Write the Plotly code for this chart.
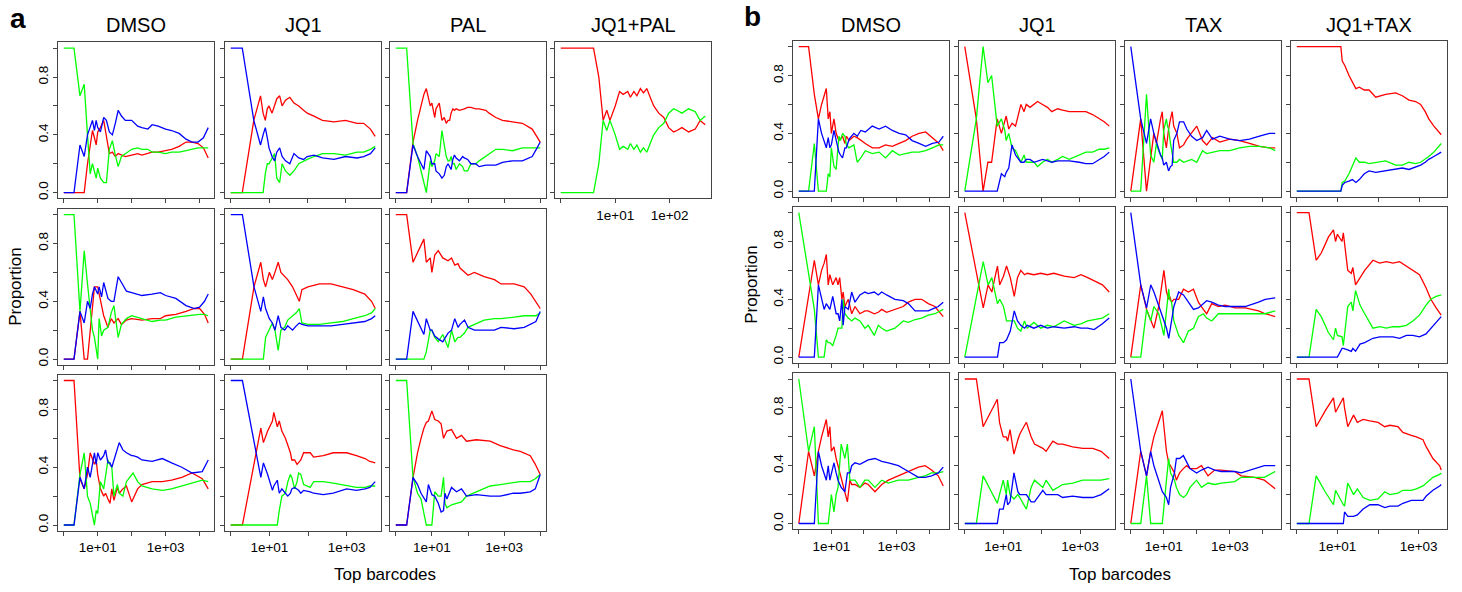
import math
import plotly.graph_objects as go

# ---------------- data (rank of barcode, proportion per colour) ----------------
# Panel a
a11_rank = [1,2,3,4,5,6,7,8,9,10,12,15,18,22,27,33,40,50,65,100,150,200,300,400,600,1000,1500,2500,4000,6000,9000,13000,18000]
a11_red = [0,0,0,0,0.2,0.33,0.43,0.38,0.33,0.42,0.45,0.5,0.4,0.27,0.28,0.25,0.27,0.26,0.25,0.26,0.27,0.26,0.27,0.28,0.28,0.29,0.3,0.32,0.35,0.35,0.34,0.31,0.24]
a11_green = [1,1,0.67,0.75,0.4,0.13,0.2,0.15,0.1,0.17,0.1,0.07,0.07,0.3,0.36,0.26,0.18,0.25,0.27,0.3,0.31,0.3,0.3,0.28,0.28,0.27,0.28,0.28,0.29,0.3,0.31,0.31,0.31]
a11_blue = [0,0,0.33,0.25,0.4,0.45,0.5,0.43,0.5,0.45,0.42,0.52,0.5,0.42,0.4,0.48,0.57,0.53,0.5,0.5,0.46,0.45,0.44,0.47,0.46,0.44,0.43,0.41,0.37,0.35,0.35,0.38,0.45]

a12_rank = [1,2,4,6,7,8,9,10,12,14,16,19,22,27,35,45,60,80,100,150,250,500,1000,2000,3000,4500,6000]
a12_red = [0,0,0.5,0.67,0.55,0.5,0.58,0.6,0.55,0.6,0.65,0.67,0.6,0.64,0.66,0.62,0.6,0.57,0.55,0.53,0.5,0.49,0.5,0.48,0.48,0.44,0.39]
a12_green = [0,0,0,0,0,0.13,0.2,0.2,0.24,0.27,0.1,0.07,0.2,0.15,0.12,0.15,0.2,0.22,0.23,0.25,0.27,0.27,0.26,0.28,0.28,0.3,0.32]
a12_blue = [1,1,0.5,0.33,0.4,0.45,0.38,0.31,0.25,0.22,0.28,0.31,0.25,0.22,0.2,0.27,0.24,0.23,0.25,0.26,0.24,0.23,0.25,0.24,0.25,0.27,0.31]

a13_rank = [1,2,3,4,6,7,9,10,12,13,16,19,22,25,28,31,34,38,42,47,58,71,79,98,120,164,204,311,385,590,900,1700,3200,6000,8200,10000]
a13_red = [0,0,0.35,0.5,0.68,0.72,0.6,0.62,0.52,0.58,0.62,0.5,0.52,0.48,0.5,0.5,0.55,0.58,0.57,0.58,0.57,0.58,0.58,0.59,0.59,0.58,0.58,0.57,0.55,0.52,0.5,0.49,0.48,0.44,0.38,0.35]
a13_green = [1,1,0.34,0.25,0.07,0,0.22,0.18,0.22,0.27,0.25,0.43,0.33,0.25,0.22,0.22,0.25,0.2,0.2,0.16,0.2,0.18,0.15,0.15,0.2,0.2,0.22,0.25,0.27,0.3,0.3,0.29,0.31,0.31,0.31,0.31]
a13_blue = [0,0,0.33,0.25,0.16,0.29,0.25,0.2,0.2,0.15,0.13,0.1,0.12,0.18,0.2,0.18,0.16,0.23,0.26,0.24,0.22,0.25,0.24,0.23,0.2,0.2,0.18,0.19,0.19,0.19,0.21,0.22,0.22,0.25,0.31,0.35]

a14_rank = [1,2,3,4,5,6,7,8,10,12,14,17,19,22,25,29,33,38,45,51,63,78,96,118,136,168,223,295,363,450]
a14_red = [1,1,1,1,0.8,0.5,0.57,0.5,0.6,0.7,0.68,0.7,0.66,0.7,0.67,0.72,0.69,0.72,0.65,0.6,0.55,0.52,0.45,0.42,0.43,0.45,0.42,0.44,0.5,0.47]
a14_green = [0,0,0,0,0.2,0.5,0.43,0.5,0.4,0.3,0.32,0.3,0.34,0.3,0.33,0.28,0.31,0.28,0.35,0.4,0.45,0.48,0.55,0.58,0.57,0.55,0.58,0.56,0.5,0.53]

a21_rank = [1,2,3,4,5,6,7,8,10,11,13,15,20,25,30,40,50,70,100,200,400,700,1000,2000,4000,7000,10000,14000,18000]
a21_red = [0,0,0.33,0,0,0.2,0.4,0.5,0.5,0.45,0.38,0.3,0.22,0.28,0.25,0.28,0.24,0.27,0.28,0.27,0.28,0.28,0.3,0.31,0.33,0.35,0.35,0.31,0.25]
a21_green = [1,1,0.33,0.75,0.52,0.35,0.2,0.15,0,0.28,0.16,0.2,0.22,0.32,0.37,0.15,0.24,0.28,0.3,0.28,0.26,0.27,0.27,0.29,0.3,0.31,0.31,0.31,0.3]
a21_blue = [0,0,0.33,0.25,0.4,0.35,0.45,0.5,0.45,0.5,0.43,0.53,0.42,0.4,0.4,0.57,0.53,0.47,0.46,0.44,0.45,0.46,0.44,0.42,0.37,0.35,0.36,0.4,0.45]

a22_rank = [1,2,4,5,6,7,8,10,12,14,17,20,25,30,40,50,60,70,100,200,400,800,1500,3000,4500,5600]
a22_red = [0,0,0.5,0.6,0.67,0.55,0.5,0.6,0.55,0.6,0.67,0.6,0.57,0.55,0.5,0.45,0.4,0.48,0.5,0.52,0.52,0.5,0.48,0.45,0.4,0.35]
a22_green = [0,0,0,0,0,0,0.15,0.2,0.25,0.2,0.06,0.2,0.22,0.27,0.3,0.32,0.35,0.25,0.24,0.24,0.25,0.26,0.28,0.3,0.32,0.35]
a22_blue = [1,1,0.5,0.4,0.33,0.43,0.35,0.28,0.25,0.2,0.3,0.22,0.2,0.23,0.2,0.23,0.25,0.24,0.23,0.23,0.23,0.24,0.25,0.26,0.28,0.3]

a23_rank = [1,2,3,6,7,9,10,12,15,20,28,35,43,53,60,80,100,150,280,540,820,1900,3600,5500,7600,10000]
a23_red = [1,1,0.67,0.83,0.67,0.7,0.6,0.72,0.75,0.7,0.68,0.7,0.65,0.66,0.63,0.6,0.58,0.6,0.57,0.55,0.52,0.52,0.5,0.45,0.4,0.35]
a23_green = [0,0,0,0,0.05,0.2,0.2,0.15,0.12,0.17,0.08,0.2,0.12,0.15,0.15,0.18,0.22,0.24,0.27,0.28,0.28,0.29,0.3,0.3,0.3,0.32]
a23_blue = [0,0,0.33,0.17,0.28,0.2,0.2,0.16,0.14,0.12,0.18,0.2,0.28,0.22,0.24,0.27,0.22,0.2,0.2,0.2,0.22,0.21,0.22,0.24,0.26,0.33]

a31_rank = [1,2,3,4,5,6,8,9,10,12,15,17,20,23,26,30,38,43,55,70,100,110,150,200,400,800,1500,3000,6000,12000,18000]
a31_red = [1,1,0.32,0.25,0.35,0.5,0.42,0.45,0.35,0.25,0.2,0.22,0.18,0.15,0.25,0.17,0.26,0.22,0.25,0.27,0.16,0.18,0.25,0.28,0.3,0.3,0.31,0.33,0.36,0.32,0.25]
a31_green = [0,0,0.35,0.5,0.2,0.15,0,0.1,0.08,0.3,0.25,0.35,0.45,0.42,0.4,0.2,0.28,0.22,0.2,0.3,0.35,0.36,0.3,0.27,0.25,0.24,0.25,0.27,0.29,0.31,0.3]
a31_blue = [0,0,0.33,0.25,0.4,0.33,0.5,0.42,0.5,0.45,0.48,0.52,0.43,0.43,0.4,0.45,0.52,0.57,0.52,0.5,0.48,0.48,0.47,0.45,0.44,0.46,0.43,0.4,0.36,0.37,0.45]

a32_rank = [1,2,6,7,9,12,13,16,18,21,26,30,35,38,45,52,57,65,77,114,140,250,450,1000,1800,3000,4000,5500]
a32_red = [0,0,0.67,0.57,0.65,0.72,0.78,0.68,0.72,0.65,0.6,0.55,0.5,0.45,0.45,0.42,0.43,0.45,0.5,0.5,0.47,0.48,0.5,0.5,0.48,0.46,0.44,0.43]
a32_green = [0,0,0,0,0,0,0,0,0.1,0.2,0.22,0.3,0.35,0.33,0.25,0.3,0.36,0.35,0.28,0.26,0.3,0.3,0.29,0.27,0.26,0.26,0.27,0.27]
a32_blue = [1,1,0.33,0.43,0.35,0.24,0.27,0.31,0.22,0.25,0.22,0.2,0.22,0.25,0.26,0.25,0.24,0.22,0.24,0.23,0.22,0.21,0.22,0.25,0.24,0.25,0.26,0.3]

a33_rank = [1,2,3,4,5,6,7,8,10,12,15,18,21,23,26,35,48,66,91,170,410,780,1800,2800,5300,7300,10000]
a33_red = [0,0,0.33,0.5,0.6,0.67,0.71,0.72,0.79,0.73,0.72,0.7,0.6,0.62,0.65,0.66,0.6,0.62,0.58,0.59,0.58,0.55,0.52,0.51,0.48,0.42,0.35]
a33_green = [1,1,0.33,0.22,0.18,0.07,0,0,0,0.23,0.2,0.2,0.33,0.15,0.12,0.14,0.15,0.16,0.2,0.23,0.27,0.28,0.29,0.3,0.3,0.32,0.35]
a33_blue = [0,0,0.33,0.28,0.22,0.19,0.16,0.28,0.21,0.2,0.15,0.09,0.1,0.22,0.18,0.26,0.23,0.25,0.2,0.21,0.2,0.2,0.22,0.22,0.23,0.25,0.35]

# Panel b
b11_rank = [1,2,3,4,5,7,8,9,10,12,14,17,19,22,26,29,35,49,62,80,110,180,290,460,740,1200,1900,3000,4900,7800,12600,20000,27000]
b11_red = [1,1,0.67,0.5,0.6,0.71,0.5,0.55,0.4,0.5,0.4,0.35,0.36,0.38,0.33,0.38,0.35,0.38,0.37,0.35,0.33,0.3,0.3,0.32,0.31,0.33,0.35,0.38,0.4,0.41,0.37,0.33,0.28]
b11_green = [0,0,0.33,0,0,0,0.12,0.1,0.3,0.17,0.15,0.38,0.35,0.4,0.38,0.32,0.3,0.32,0.2,0.23,0.28,0.26,0.27,0.23,0.28,0.25,0.26,0.27,0.27,0.28,0.3,0.32,0.32]
b11_blue = [0,0,0,0.5,0.4,0.3,0.37,0.3,0.32,0.42,0.35,0.27,0.25,0.23,0.3,0.3,0.36,0.4,0.38,0.42,0.41,0.45,0.43,0.45,0.42,0.4,0.39,0.35,0.33,0.31,0.33,0.34,0.38]

b12_rank = [1,2,3,4,5,6,7,9,11,12,14,17,21,29,35,40,50,64,79,106,143,185,262,354,527,958,1430,2140,3190,4300,5800]
b12_red = [1,0.5,0,0.2,0.2,0.35,0.5,0.4,0.48,0.52,0.43,0.47,0.45,0.6,0.55,0.6,0.58,0.6,0.62,0.6,0.58,0.55,0.57,0.56,0.55,0.55,0.55,0.53,0.5,0.48,0.45]
b12_green = [0,0.5,1,0.75,0.8,0.6,0.45,0.5,0.42,0.35,0.4,0.3,0.28,0.2,0.25,0.2,0.2,0.2,0.17,0.2,0.22,0.2,0.22,0.24,0.22,0.25,0.27,0.27,0.29,0.29,0.3]
b12_blue = [0,0,0,0,0,0,0,0.12,0.1,0.13,0.16,0.32,0.25,0.2,0.2,0.22,0.22,0.2,0.21,0.22,0.21,0.2,0.21,0.21,0.21,0.2,0.19,0.19,0.22,0.24,0.27]

b13_rank = [1,2,3,4,5,6,7,8,9,10,12,13,14,16,18,20,25,30,40,50,70,100,150,200,300,500,1000,2000,4000,8000,16000,24000]
b13_red = [0,0.5,0,0.25,0.4,0.33,0.43,0.5,0.55,0.4,0.3,0.38,0.43,0.5,0.55,0.45,0.4,0.3,0.32,0.36,0.4,0.45,0.35,0.32,0.37,0.34,0.36,0.35,0.33,0.31,0.3,0.3]
b13_green = [0,0,0.67,0.25,0.2,0.33,0.28,0.25,0.22,0.42,0.5,0.45,0.43,0.33,0.27,0.2,0.2,0.22,0.2,0.21,0.22,0.2,0.28,0.26,0.27,0.28,0.28,0.3,0.31,0.31,0.3,0.28]
b13_blue = [1,0.5,0.33,0.5,0.4,0.34,0.29,0.25,0.23,0.18,0.2,0.17,0.14,0.17,0.18,0.35,0.4,0.48,0.48,0.43,0.38,0.35,0.37,0.42,0.36,0.38,0.36,0.35,0.36,0.38,0.4,0.4]

b14_rank = [1,12,13,15,19,23,28,34,45,59,86,150,264,385,560,815,1080,1400,1710,2280,3030,3450]
b14_red = [1,1,0.9,0.87,0.8,0.75,0.71,0.72,0.7,0.7,0.65,0.67,0.68,0.66,0.63,0.62,0.6,0.55,0.5,0.45,0.41,0.39]
b14_green = [0,0,0.06,0.07,0.12,0.17,0.23,0.2,0.2,0.19,0.2,0.21,0.18,0.18,0.2,0.19,0.2,0.22,0.24,0.27,0.31,0.33]
b14_blue = [0,0,0.04,0.06,0.07,0.08,0.06,0.08,0.12,0.14,0.13,0.14,0.15,0.16,0.15,0.17,0.18,0.2,0.22,0.24,0.26,0.27]

b21_rank = [1,3,4,5,6,7,8,9,11,14,16,18,21,23,26,33,42,53,75,107,135,207,275,350,495,890,1600,2300,3700,5900,9400,15000,19000,27000]
b21_red = [0,0.67,0.5,0.6,0.65,0.71,0.5,0.57,0.5,0.55,0.5,0.55,0.4,0.45,0.35,0.4,0.3,0.35,0.3,0.32,0.32,0.3,0.31,0.33,0.31,0.33,0.35,0.38,0.4,0.4,0.37,0.35,0.32,0.28]
b21_green = [1,0.33,0,0,0,0.12,0.1,0.1,0.08,0.15,0.2,0.2,0.2,0.4,0.3,0.27,0.25,0.27,0.25,0.2,0.22,0.15,0.22,0.2,0.18,0.2,0.25,0.24,0.26,0.27,0.29,0.3,0.31,0.33]
b21_blue = [0,0,0.5,0.4,0.33,0.37,0.35,0.33,0.42,0.3,0.3,0.25,0.4,0.22,0.35,0.33,0.45,0.38,0.43,0.45,0.44,0.45,0.43,0.45,0.43,0.4,0.39,0.37,0.32,0.32,0.32,0.34,0.35,0.38]

b22_rank = [1,2,3,4,5,6,7,8,10,12,15,19,23,28,35,41,61,92,136,200,370,670,1000,1500,2200,3600,5400]
b22_red = [1,0.6,0.34,0.5,0.45,0.55,0.63,0.5,0.56,0.63,0.55,0.42,0.55,0.6,0.57,0.58,0.57,0.58,0.57,0.58,0.56,0.55,0.57,0.55,0.53,0.5,0.45]
b22_green = [0,0.4,0.66,0.5,0.55,0.45,0.37,0.4,0.35,0.25,0.25,0.25,0.2,0.18,0.25,0.2,0.24,0.2,0.22,0.21,0.25,0.22,0.23,0.25,0.26,0.27,0.3]
b22_blue = [0,0,0,0,0,0,0,0.1,0.1,0.12,0.18,0.32,0.25,0.22,0.2,0.22,0.2,0.22,0.2,0.21,0.2,0.21,0.2,0.2,0.19,0.23,0.27]

b23_rank = [1,2,3,4,5,7,10,12,14,15,17,20,28,39,55,78,110,155,196,278,443,706,1430,2850,7200,11500,23000]
b23_red = [0,0.5,0.33,0.25,0.2,0.35,0.6,0.45,0.4,0.42,0.38,0.4,0.4,0.47,0.45,0.47,0.38,0.33,0.3,0.37,0.35,0.36,0.34,0.34,0.32,0.3,0.28]
b23_green = [0,0,0.33,0.25,0.35,0.3,0.15,0.35,0.47,0.4,0.38,0.25,0.15,0.1,0.18,0.2,0.28,0.3,0.27,0.25,0.3,0.3,0.3,0.3,0.3,0.3,0.32]
b23_blue = [1,0.5,0.34,0.5,0.45,0.35,0.25,0.2,0.13,0.18,0.24,0.35,0.45,0.43,0.38,0.33,0.34,0.37,0.39,0.38,0.36,0.35,0.35,0.35,0.38,0.4,0.41]

b24_rank = [1,2,3,4,5,6,8,9,10,13,14,18,22,24,28,36,47,75,110,160,233,340,500,720,1050,1520,2000,2700,3600]
b24_red = [1,1,0.67,0.72,0.78,0.83,0.88,0.8,0.85,0.8,0.86,0.6,0.58,0.62,0.5,0.55,0.6,0.67,0.65,0.66,0.65,0.66,0.63,0.6,0.57,0.48,0.4,0.34,0.29]
b24_green = [0,0,0.33,0.28,0.22,0.17,0.12,0.2,0.15,0.14,0.08,0.35,0.38,0.32,0.46,0.36,0.3,0.2,0.21,0.2,0.21,0.21,0.22,0.25,0.29,0.36,0.4,0.42,0.43]
b24_blue = [0,0,0,0,0,0,0,0,0,0.06,0.06,0.05,0.04,0.06,0.04,0.09,0.1,0.13,0.14,0.14,0.14,0.13,0.15,0.15,0.14,0.16,0.2,0.24,0.28]

b31_rank = [1,2,3,4,5,7,8,9,10,12,14,16,20,26,31,37,42,53,75,107,135,218,350,560,1140,2300,4700,7500,11900,19000,27000]
b31_red = [0,0.5,0.33,0.5,0.6,0.72,0.6,0.67,0.5,0.53,0.45,0.4,0.3,0.2,0.15,0.3,0.27,0.27,0.25,0.28,0.27,0.22,0.27,0.3,0.33,0.36,0.39,0.4,0.37,0.33,0.26]
b31_green = [1,0.5,0.67,0,0,0,0,0.1,0.2,0.08,0.2,0.25,0.55,0.45,0.55,0.3,0.3,0.3,0.25,0.3,0.3,0.25,0.3,0.28,0.3,0.3,0.32,0.33,0.35,0.35,0.36]
b31_blue = [0,0,0,0.5,0.4,0.3,0.4,0.3,0.35,0.42,0.35,0.3,0.25,0.22,0.35,0.35,0.4,0.42,0.41,0.43,0.44,0.45,0.43,0.42,0.4,0.36,0.32,0.32,0.33,0.35,0.39]

b32_rank = [1,2,3,5,7,8,10,12,13,15,19,24,27,36,40,53,65,107,130,195,262,350,640,1170,2130,3500,5700]
b32_red = [1,1,0.67,0.78,0.86,0.7,0.6,0.6,0.57,0.65,0.48,0.58,0.62,0.68,0.7,0.6,0.55,0.52,0.5,0.57,0.55,0.55,0.53,0.52,0.52,0.5,0.45]
b32_green = [0,0,0.33,0.22,0.14,0.2,0.3,0.2,0.3,0.2,0.17,0.2,0.18,0.12,0.1,0.25,0.3,0.25,0.3,0.23,0.25,0.27,0.28,0.3,0.3,0.3,0.31]
b32_blue = [0,0,0,0,0,0.1,0.1,0.2,0.13,0.15,0.35,0.22,0.2,0.2,0.2,0.15,0.15,0.23,0.2,0.2,0.2,0.18,0.19,0.18,0.18,0.2,0.24]

b33_rank = [1,2,3,4,5,7,9,12,14,16,21,24,30,39,49,62,98,138,218,346,545,1400,2200,5500,11000,23500]
b33_red = [0,0.5,0.33,0.5,0.6,0.7,0.78,0.5,0.42,0.4,0.35,0.3,0.35,0.38,0.4,0.38,0.38,0.4,0.33,0.37,0.37,0.36,0.33,0.32,0.3,0.24]
b33_green = [0,0,0.33,0,0,0,0,0.3,0.45,0.35,0.3,0.25,0.2,0.18,0.2,0.25,0.3,0.25,0.28,0.27,0.28,0.29,0.32,0.32,0.32,0.36]
b33_blue = [1,0.5,0.33,0.5,0.4,0.3,0.22,0.18,0.13,0.25,0.35,0.45,0.45,0.47,0.43,0.38,0.35,0.37,0.39,0.37,0.36,0.36,0.35,0.38,0.4,0.4]

b34_rank = [1,2,3,5,8,9,14,15,18,25,31,43,63,100,147,195,310,410,660,880,1280,1540,2250,3300,3600]
b34_red = [1,1,0.67,0.78,0.87,0.77,0.87,0.8,0.67,0.75,0.7,0.72,0.71,0.7,0.67,0.68,0.67,0.63,0.61,0.6,0.58,0.53,0.45,0.4,0.37]
b34_green = [0,0,0.33,0.22,0.13,0.23,0.13,0.12,0.28,0.2,0.24,0.18,0.16,0.17,0.22,0.2,0.21,0.23,0.23,0.24,0.26,0.28,0.32,0.34,0.35]
b34_blue = [0,0,0,0,0,0,0,0.08,0.05,0.05,0.06,0.1,0.13,0.13,0.11,0.12,0.12,0.14,0.16,0.16,0.16,0.19,0.23,0.26,0.27]

a_titles = ["DMSO", "JQ1", "PAL", "JQ1+PAL"]
b_titles = ["DMSO", "JQ1", "TAX", "JQ1+TAX"]
y_tick_values = [0, 0.2, 0.4, 0.6, 0.8, 1.0]
y_tick_labels = ["0.0", "", "0.4", "", "0.8", ""]
x_labels_main = {10: "1e+01", 1000: "1e+03"}
x_labels_short = {10: "1e+01", 100: "1e+02"}

# ---------------- layout geometry (pixels) ----------------
W, H = 1462, 592
FONT = "Liberation Sans, Arial, sans-serif"
BOX_W, BOX_H = 156, 156.6
a_left = [58, 225, 390, 555]
a_top = [42.5, 209.5, 376]
b_left = [793, 959, 1125, 1291]
b_top = [41, 207.5, 374.5]

# (left, top, rank, red, green, blue, show x labels, show y labels, x label map)
subplots = [
    (a_left[0], a_top[0], a11_rank, a11_red, a11_green, a11_blue, False, True, x_labels_main),
    (a_left[1], a_top[0], a12_rank, a12_red, a12_green, a12_blue, False, False, x_labels_main),
    (a_left[2], a_top[0], a13_rank, a13_red, a13_green, a13_blue, False, False, x_labels_main),
    (a_left[3], a_top[0], a14_rank, a14_red, a14_green, None, True, False, x_labels_short),
    (a_left[0], a_top[1], a21_rank, a21_red, a21_green, a21_blue, False, True, x_labels_main),
    (a_left[1], a_top[1], a22_rank, a22_red, a22_green, a22_blue, False, False, x_labels_main),
    (a_left[2], a_top[1], a23_rank, a23_red, a23_green, a23_blue, False, False, x_labels_main),
    (a_left[0], a_top[2], a31_rank, a31_red, a31_green, a31_blue, True, True, x_labels_main),
    (a_left[1], a_top[2], a32_rank, a32_red, a32_green, a32_blue, True, False, x_labels_main),
    (a_left[2], a_top[2], a33_rank, a33_red, a33_green, a33_blue, True, False, x_labels_main),
    (b_left[0], b_top[0], b11_rank, b11_red, b11_green, b11_blue, False, True, x_labels_main),
    (b_left[1], b_top[0], b12_rank, b12_red, b12_green, b12_blue, False, False, x_labels_main),
    (b_left[2], b_top[0], b13_rank, b13_red, b13_green, b13_blue, False, False, x_labels_main),
    (b_left[3], b_top[0], b14_rank, b14_red, b14_green, b14_blue, False, False, x_labels_main),
    (b_left[0], b_top[1], b21_rank, b21_red, b21_green, b21_blue, False, True, x_labels_main),
    (b_left[1], b_top[1], b22_rank, b22_red, b22_green, b22_blue, False, False, x_labels_main),
    (b_left[2], b_top[1], b23_rank, b23_red, b23_green, b23_blue, False, False, x_labels_main),
    (b_left[3], b_top[1], b24_rank, b24_red, b24_green, b24_blue, False, False, x_labels_main),
    (b_left[0], b_top[2], b31_rank, b31_red, b31_green, b31_blue, True, True, x_labels_main),
    (b_left[1], b_top[2], b32_rank, b32_red, b32_green, b32_blue, True, False, x_labels_main),
    (b_left[2], b_top[2], b33_rank, b33_red, b33_green, b33_blue, True, False, x_labels_main),
    (b_left[3], b_top[2], b34_rank, b34_red, b34_green, b34_blue, True, False, x_labels_main),
]

COLORS = {"red": "#FF0000", "green": "#00FF00", "blue": "#0000FF"}
AXCOL = "#444444"

fig = go.Figure()
layout = {}

for i, (left, top, rank, red, green, blue, showx, showy, xmap) in enumerate(subplots, start=1):
    xa = "xaxis" if i == 1 else f"xaxis{i}"
    ya = "yaxis" if i == 1 else f"yaxis{i}"
    xr = "x" if i == 1 else f"x{i}"
    yr = "y" if i == 1 else f"y{i}"
    for name, vals in (("red", red), ("green", green), ("blue", blue)):
        if vals is None:
            continue
        fig.add_trace(go.Scatter(x=rank, y=vals, mode="lines", xaxis=xr, yaxis=yr,
                                 line=dict(color=COLORS[name], width=1.3),
                                 hoverinfo="skip", showlegend=False))
    L = math.log10(max(rank))
    decades = [10 ** k for k in range(0, int(math.floor(L + 1e-9)) + 1)]
    ticktext = [xmap.get(v, "") if showx else "" for v in decades]
    layout[xa] = dict(
        domain=[left / W, (left + BOX_W) / W], anchor=yr, type="log",
        range=[-0.04 * L, 1.04 * L], tickvals=decades, ticktext=ticktext,
        ticks="outside", ticklen=4, tickwidth=1, tickcolor=AXCOL,
        showline=True, mirror=True, linecolor=AXCOL, linewidth=1,
        showgrid=False, zeroline=False,
        tickfont=dict(family=FONT, size=13.5, color="#000000"),
        fixedrange=True,
    )
    layout[ya] = dict(
        domain=[1 - (top + BOX_H) / H, 1 - top / H], anchor=xr,
        range=[-0.04, 1.04], tickvals=y_tick_values,
        ticktext=y_tick_labels if showy else [""] * len(y_tick_values),
        tickangle=-90,
        ticks="outside", ticklen=4, tickwidth=1, tickcolor=AXCOL,
        showline=True, mirror=True, linecolor=AXCOL, linewidth=1,
        showgrid=False, zeroline=False,
        tickfont=dict(family=FONT, size=13.5, color="#000000"),
        fixedrange=True,
    )

annotations = []


def ann(text, px, py, size, bold=False, angle=0):
    annotations.append(dict(
        text=f"<b>{text}</b>" if bold else text, x=px / W, y=1 - py / H,
        xref="paper", yref="paper", xanchor="center", yanchor="middle",
        showarrow=False, textangle=angle, borderpad=0,
        font=dict(family=FONT, size=size, color="#000000"),
    ))


for j, t in enumerate(a_titles):
    ann(t, a_left[j] + BOX_W / 2, 25.5, 20)
for j, t in enumerate(b_titles):
    ann(t, b_left[j] + BOX_W / 2, 25.5, 20)
ann("a", 18, 19, 28, bold=True)
ann("b", 752, 17, 28, bold=True)
ann("Proportion", 16, a_top[1] + BOX_H / 2, 17, angle=-90)
ann("Proportion", 752, b_top[1] + BOX_H / 2, 17, angle=-90)
ann("Top barcodes", (a_left[0] + a_left[3] + BOX_W) / 2, 576, 17)
ann("Top barcodes", (b_left[0] + b_left[3] + BOX_W) / 2, 576, 17)

fig.update_layout(
    width=W, height=H, margin=dict(l=0, r=0, t=0, b=0),
    paper_bgcolor="white", plot_bgcolor="white", showlegend=False,
    annotations=annotations, **layout,
)

# remove the browser's default 8px page margin so the figure sits at the window origin
fig.write_html("out.html", config={"displayModeBar": False},
               post_script="document.body.style.margin='0px';")
